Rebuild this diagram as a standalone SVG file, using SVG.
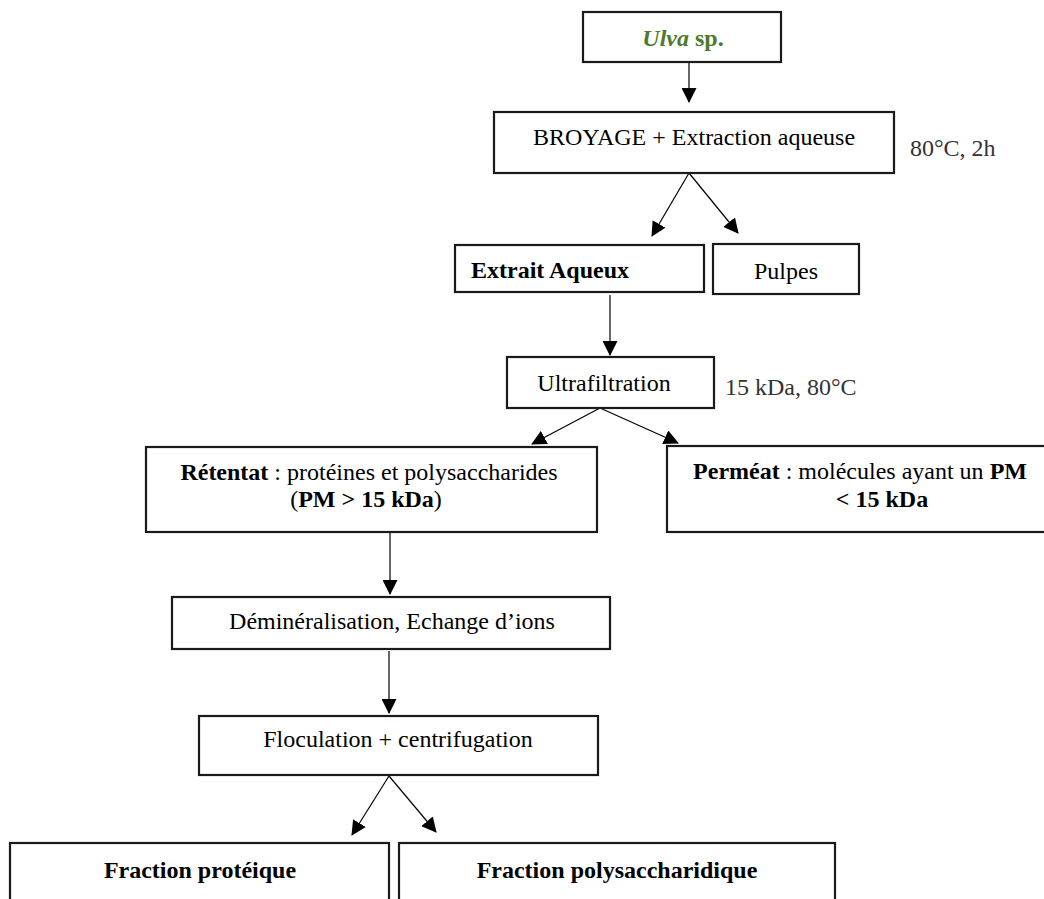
<svg xmlns="http://www.w3.org/2000/svg" width="1044" height="899" viewBox="0 0 1044 899">
<defs>
<style>
.box{fill:#fff;stroke:#1a1a1a;stroke-width:2.2}
.t{font-family:"Liberation Serif","Times New Roman",serif;font-size:24px;fill:#000}
.c{text-anchor:middle}
.b{font-weight:bold}
.note{fill:#333}
.ln{stroke:#000;stroke-width:1.2;fill:none;marker-end:url(#ah)}
</style>
<marker id="ah" markerWidth="15" markerHeight="15" refX="14" refY="7.5" orient="auto" markerUnits="userSpaceOnUse">
<path d="M0,0 L15,7.5 L0,15 Z" fill="#000"/>
</marker>
</defs>
<rect width="1044" height="899" fill="#fff"/>
<g id="connectors">
<line class="ln" x1="689" y1="62" x2="689" y2="102"/>
<line class="ln" x1="689" y1="173" x2="652" y2="236"/>
<line class="ln" x1="689" y1="173" x2="738" y2="233"/>
<line class="ln" x1="610" y1="295" x2="610" y2="355"/>
<line class="ln" x1="600" y1="408" x2="532" y2="444"/>
<line class="ln" x1="600" y1="408" x2="678" y2="443"/>
<line class="ln" x1="390" y1="533" x2="390" y2="594"/>
<line class="ln" x1="389" y1="651" x2="389" y2="713"/>
<line class="ln" x1="389" y1="776" x2="352" y2="835"/>
<line class="ln" x1="389" y1="776" x2="436" y2="832"/>
</g>
<g id="ulva">
<rect class="box" x="583" y="12" width="198" height="50"/>
<text class="t c" x="683" y="46" style="fill:#4e7a2d"><tspan font-style="italic" font-weight="bold">Ulva</tspan><tspan font-weight="bold"> sp.</tspan></text>
</g>
<g id="broyage">
<rect class="box" x="494" y="112" width="400" height="61"/>
<text class="t c" x="694" y="145">BROYAGE + Extraction aqueuse</text>
<text class="t note" x="910" y="156">80°C, 2h</text>
</g>
<g id="extrait">
<rect class="box" x="455" y="245" width="249" height="47"/>
<text class="t c b" x="550" y="278">Extrait Aqueux</text>
</g>
<g id="pulpes">
<rect class="box" x="713" y="244" width="146" height="50"/>
<text class="t c" x="786" y="279">Pulpes</text>
</g>
<g id="ultrafiltration">
<rect class="box" x="507" y="357" width="207" height="51"/>
<text class="t c" x="604" y="391">Ultrafiltration</text>
<text class="t note" x="725" y="395">15 kDa, 80°C</text>
</g>
<g id="retentat">
<rect class="box" x="146" y="447" width="451" height="85"/>
<text class="t c" x="369" y="480"><tspan font-weight="bold">Rétentat</tspan> : protéines et polysaccharides</text>
<text class="t c" x="366" y="507">(<tspan font-weight="bold">PM &gt; 15 kDa</tspan>)</text>
</g>
<g id="permeat">
<rect class="box" x="667" y="446" width="380" height="86"/>
<text class="t c" x="860" y="479"><tspan font-weight="bold">Perméat</tspan> : molécules ayant un <tspan font-weight="bold">PM</tspan></text>
<text class="t c b" x="882" y="507">&lt; 15 kDa</text>
</g>
<g id="demineralisation">
<rect class="box" x="172" y="597" width="438" height="52"/>
<text class="t c" x="392" y="629">Déminéralisation, Echange d’ions</text>
</g>
<g id="floculation">
<rect class="box" x="199" y="716" width="399" height="59"/>
<text class="t c" x="398" y="747">Floculation + centrifugation</text>
</g>
<g id="fraction-proteique">
<rect class="box" x="10" y="843" width="379" height="70"/>
<text class="t c b" x="200" y="878">Fraction protéique</text>
</g>
<g id="fraction-polysaccharidique">
<rect class="box" x="399" y="843" width="436" height="70"/>
<text class="t c b" x="617" y="878">Fraction polysaccharidique</text>
</g>
</svg>
